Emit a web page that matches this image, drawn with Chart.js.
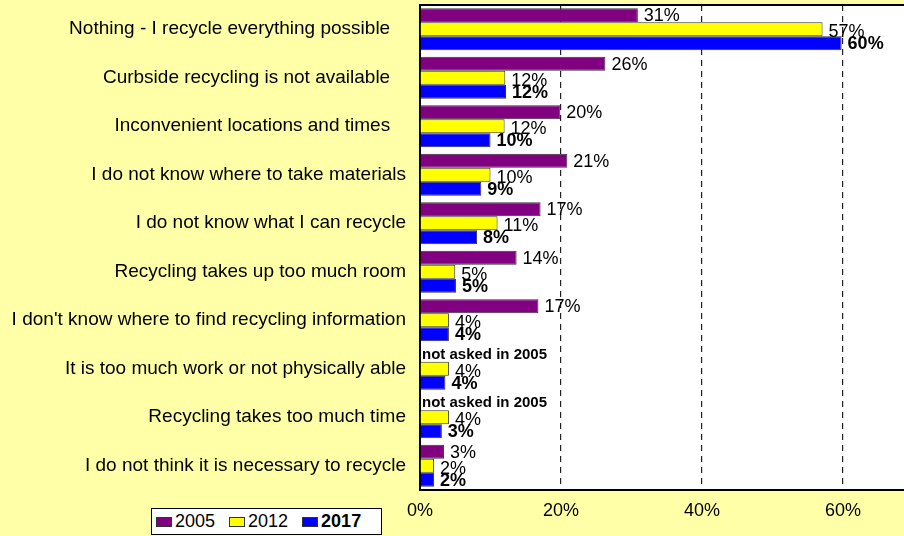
<!DOCTYPE html>
<html>
<head>
<meta charset="utf-8">
<script src="https://cdn.jsdelivr.net/npm/chart.js@4"></script>
<style>
  html, body { margin: 0; padding: 0; background: #FFFFA8; }
  #wrap { position: relative; width: 904px; height: 536px; }
  #legend {
    position: absolute; left: 151px; top: 508px; width: 231px; height: 27px;
    background: #fff; border: 1px solid #000; box-sizing: border-box;
    font: 18px "Liberation Sans", Arial, sans-serif; color: #000;
    display: flex; align-items: center; padding-left: 4px; white-space: nowrap;
  }
  #legend span.sw { display: inline-block; width: 16px; height: 10px; border: 1px solid #333; margin-right: 3px; box-sizing: border-box; }
  #legend span.it { margin-right: 14px; }
</style>
</head>
<body>
<div id="wrap">
  <canvas id="chart" width="904" height="536"></canvas>
  <div id="legend">
    <span class="sw" style="background:#800080"></span><span class="it">2005</span>
    <span class="sw" style="background:#FFFF00"></span><span class="it">2012</span>
    <span class="sw" style="background:#0000FF"></span><span class="it" style="font-weight:bold">2017</span>
  </div>
</div>
<script>
// ─── data ───
const categories = [
    'Nothing - I recycle everything possible   ',
    'Curbside recycling is not available   ',
    'Inconvenient locations and times   ',
    'I do not know where to take materials',
    'I do not know what I can recycle',
    'Recycling takes up too much room',
    "I don't know where to find recycling information",
    'It is too much work or not physically able',
    'Recycling takes too much time',
    'I do not think it is necessary to recycle'
];
const years = ['2005', '2012', '2017'];
const values2005 = [30.9, 26.3, 19.9, 20.9, 17.1, 13.7, 16.8, null, null, 3.4];
const values2012 = [57.1, 12.1, 12.0, 10.0, 11.0, 5.0, 4.1, 4.1, 4.1, 2.0];
const values2017 = [59.8, 12.2, 10.0, 8.7, 8.1, 5.1, 4.1, 3.6, 3.1, 2.0];
const xTicks = [0, 20, 40, 60];

const FONT = '"Liberation Sans", Arial, sans-serif';

// white plot area + top border
const plotBg = {
    id: 'plotBg',
    beforeDraw(chart) {
        const { ctx, chartArea: a } = chart;
        ctx.save();
        ctx.fillStyle = '#fff';
        ctx.fillRect(a.left, a.top, a.right - a.left, a.bottom - a.top);
        ctx.restore();
    },
    afterDraw(chart) {
        const { ctx, chartArea: a } = chart;
        ctx.save();
        ctx.strokeStyle = '#000';
        ctx.lineWidth = 2;
        ctx.beginPath();
        ctx.moveTo(a.left, a.top);
        ctx.lineTo(a.right, a.top);
        ctx.stroke();
        ctx.restore();
    }
};

// value labels next to bars
const barLabels = {
    id: 'barLabels',
    afterDatasetsDraw(chart) {
        const ctx = chart.ctx;
        const dy = [1, 3, 1];
        ctx.save();
        ctx.fillStyle = '#000';
        ctx.textBaseline = 'middle';
        ctx.textAlign = 'left';
        chart.data.datasets.forEach((ds, d) => {
            const meta = chart.getDatasetMeta(d);
            meta.data.forEach((el, i) => {
                const v = ds.data[i];
                if (v == null) {
                    const ref = chart.getDatasetMeta(1).data[i];
                    ctx.font = 'bold 15px ' + FONT;
                    ctx.fillText('not asked in ' + years[d], chart.chartArea.left + 2, ref.y - ref.height);
                    return;
                }
                ctx.font = (d === 2 ? 'bold ' : '') + '18px ' + FONT;
                ctx.fillText(Math.round(v) + '%', el.x + 6, el.y + dy[d]);
            });
        });
        ctx.restore();
    }
};

const mkSet = (label, data, color) => ({
    label, data,
    backgroundColor: color,
    borderColor: '#333',
    borderWidth: 1,
    categoryPercentage: 0.87,
    barPercentage: 1.0
});

new Chart(document.getElementById('chart'), {
    type: 'bar',
    data: {
        labels: categories,
        datasets: [
            mkSet('2005', values2005, '#800080'),
            mkSet('2012', values2012, '#FFFF00'),
            mkSet('2017', values2017, '#0000FF')
        ]
    },
    options: {
        indexAxis: 'y',
        responsive: false,
        animation: false,
        layout: { padding: { top: 5, right: 0, bottom: 0, left: 0 } },
        plugins: {
            legend: { display: false },
            tooltip: { enabled: false }
        },
        scales: {
            x: {
                min: 0,
                max: 68.65,
                afterBuildTicks(scale) {
                    scale.ticks = xTicks.map(v => ({ value: v }));
                },
                afterFit(scale) {
                    scale.height = 46;
                    scale.paddingLeft = 0;
                    scale.paddingRight = 0;
                },
                ticks: {
                    color: '#000',
                    font: { family: FONT, size: 18 },
                    padding: 10,
                    callback: v => v + '%'
                },
                grid: {
                    drawTicks: false,
                    color: ctx => ctx.tick && ctx.tick.value === 0 ? 'rgba(0,0,0,0)' : '#222',
                    lineWidth: 1.2
                },
                border: { display: true, color: '#000', width: 2, dash: [6, 5] }
            },
            y: {
                afterFit(scale) {
                    scale.width = 420;
                    scale.paddingTop = 0;
                    scale.paddingBottom = 0;
                },
                ticks: {
                    color: '#000',
                    font: { family: FONT, size: 19 },
                    padding: 14,
                    autoSkip: false
                },
                grid: { display: false, drawTicks: false },
                border: { display: true, color: '#000', width: 2 }
            }
        }
    },
    plugins: [plotBg, barLabels]
});
</script>
</body>
</html>
